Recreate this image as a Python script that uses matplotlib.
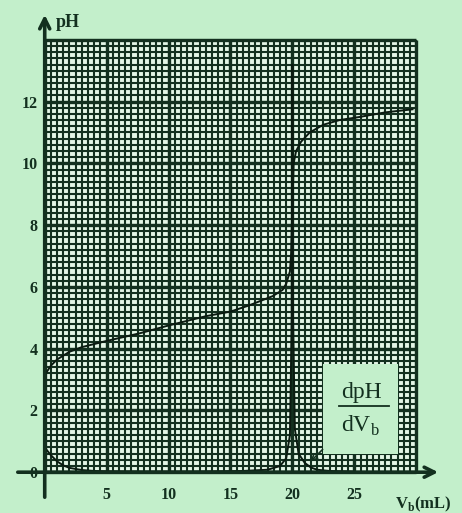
import numpy as np
import matplotlib
matplotlib.use("Agg")
import matplotlib.pyplot as plt

# ---- data ----
v_ph = [0, 0.5, 1, 2, 3, 4, 5, 7.7, 10, 13, 15, 16.5, 18.4, 19.2, 19.5, 19.8, 19.9, 20.0, 20.1, 20.3, 20.7, 21.4, 22.5, 23.8, 25.4, 27.5, 29.7]
ph = [3.15, 3.45, 3.65, 3.9, 4.05, 4.15, 4.25, 4.5, 4.75, 5.05, 5.2, 5.4, 5.7, 5.9, 6.1, 6.5, 7.1, 8.6, 10.0, 10.4, 10.7, 11.0, 11.25, 11.4, 11.5, 11.65, 11.75]

v_d = [0, 0.5, 1, 1.5, 2, 3, 4, 5, 8, 12, 16, 18, 19, 19.5, 19.8, 19.95, 20.0, 20.05, 20.2, 20.5, 21, 21.5, 22, 23, 25]
dph = [0.8, 0.55, 0.35, 0.22, 0.14, 0.07, 0.04, 0.03, 0.02, 0.02, 0.04, 0.08, 0.2, 0.45, 1.2, 5.0, 13.2, 5.0, 1.4, 0.6, 0.3, 0.15, 0.08, 0.04, 0.02]

x_ticks = [5, 10, 15, 20, 25]
y_ticks = [0, 2, 4, 6, 8, 10, 12]

BG = "#c3efcb"
CELL = "#e4f6e6"
DARK = "#13301f"
SERIF = ["Liberation Serif", "DejaVu Serif"]

fig = plt.figure(figsize=(4.62, 5.13), dpi=100, facecolor=BG)
W, H = 462, 513
left, right, bottom, top = 15, 441, 500, 12
ax = fig.add_axes([left / W, (H - bottom) / H, (right - left) / W, (bottom - top) / H])
ax.set_facecolor(BG)
ax.set_xlim(-2.4, 32)
ax.set_ylim(-0.9, 14.9)

# graph paper
xmax, ymax = 30, 14
ax.fill_between([0, xmax], 0, ymax, color=CELL, zorder=0)
ax.vlines(np.arange(0, xmax + 0.01, 0.5), 0, ymax, color=DARK, lw=1.5, zorder=1)
ax.hlines(np.arange(0, ymax + 0.01, 0.2), 0, xmax, color=DARK, lw=1.5, zorder=1)
ax.vlines(np.arange(0, xmax + 0.01, 5), 0, ymax, color=DARK, lw=2.4, zorder=1)
ax.hlines(np.arange(0, ymax + 0.01, 2), 0, xmax, color=DARK, lw=2.4, zorder=1)

# label box
ax.add_patch(plt.Rectangle((22.5, 0.6), 6.0, 2.9, facecolor=BG, edgecolor="none", zorder=2))
ax.text(25.6, 2.58, "dpH", fontsize=17, family=SERIF, color=DARK, ha="center", va="center", zorder=3)
ax.plot([23.8, 27.8], [2.13, 2.13], color=DARK, lw=1.3, zorder=3)
ax.text(25.45, 1.5, r"dV$_\mathregular{b}$", fontsize=17, family=SERIF, color=DARK, ha="center", va="center", zorder=3)
ax.annotate("", xy=(21.3, 0.28), xytext=(22.6, 0.8),
            arrowprops=dict(arrowstyle="->", lw=1.2, color=DARK), zorder=3)

# curves
ax.plot(v_ph, ph, color="#0a1a10", lw=1.4, zorder=4)
ax.plot(v_d, dph, color="#0a1a10", lw=1.4, zorder=4)

# axes with arrows
ax.annotate("", xy=(32, 0), xytext=(-2.4, 0),
            arrowprops=dict(arrowstyle="->", lw=2.6, color=DARK, mutation_scale=18), zorder=5)
ax.annotate("", xy=(0, 14.9), xytext=(0, -0.9),
            arrowprops=dict(arrowstyle="->", lw=2.6, color=DARK, mutation_scale=18), zorder=5)

for s in ax.spines.values():
    s.set_visible(False)
ax.spines["bottom"].set_position(("data", 0))
ax.spines["left"].set_position(("data", 0))
ax.set_xticks(x_ticks)
ax.set_yticks(y_ticks)
ax.tick_params(length=0)
ax.tick_params(axis="x", pad=11)
ax.tick_params(axis="y", pad=5)
for lab in ax.get_xticklabels() + ax.get_yticklabels():
    lab.set_fontfamily(SERIF)
    lab.set_fontweight("bold")
    lab.set_fontsize(11.5)
    lab.set_color(DARK)

ax.text(1.9, 14.55, "pH", fontsize=13, family=SERIF, fontweight="bold", color=DARK, ha="center", va="center")
ax.text(30.6, -1.05, r"V$_\mathregular{b}$(mL)", fontsize=12, family=SERIF, fontweight="bold",
        color=DARK, ha="center", va="center", clip_on=False)

fig.savefig("out.png", dpi=100, facecolor=BG)
